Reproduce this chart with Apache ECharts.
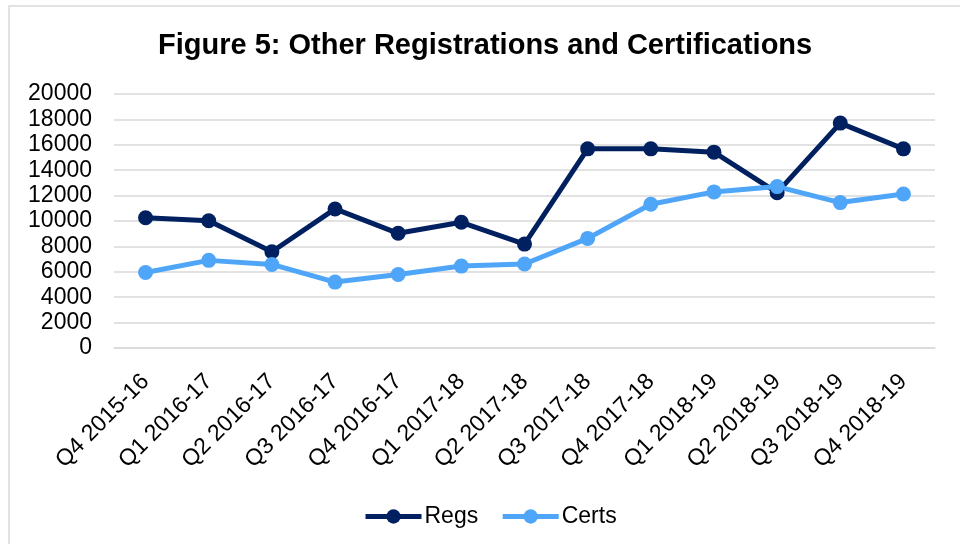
<!DOCTYPE html>
<html>
	<head>
		<meta charset="UTF-8">
		<title>Figure 5</title>
		<script src="https://cdn.jsdelivr.net/npm/echarts@6/dist/echarts.min.js"></script>
	</head>
	<style>
		html, body{
			margin: 0;
			padding: 0;
			background: #fff;
		}
		#main{
			width: 960px;
			height: 544px;
		}
	</style>
	<body>
		<div id="main"></div>
		<script>
	// data
	var quarters = ['Q4 2015-16', 'Q1 2016-17', 'Q2 2016-17', 'Q3 2016-17', 'Q4 2016-17',
		'Q1 2017-18', 'Q2 2017-18', 'Q3 2017-18', 'Q4 2017-18',
		'Q1 2018-19', 'Q2 2018-19', 'Q3 2018-19', 'Q4 2018-19'];
	var regs = [10260, 10020, 7580, 10950, 9030, 9900, 8180, 15680, 15680, 15420, 12230, 17710, 15680];
	var certs = [5950, 6900, 6580, 5190, 5790, 6450, 6610, 8630, 11320, 12290, 12710, 11450, 12130];

	var font = 'Arial, "Liberation Sans", sans-serif';
	var myChart = echarts.init(document.getElementById('main'));

	var option = {
		backgroundColor: '#fff',
		animation: false,
		title: {
			text: 'Figure 5: Other Registrations and Certifications',
			left: 153,
			top: 26,
			textStyle: {
				fontFamily: font,
				fontSize: 29,
				fontWeight: 'bold',
				color: '#000'
			}
		},
		graphic: [{
			type: 'rect',
			shape: {x: 9, y: 6, width: 960, height: 560},
			style: {fill: 'none', stroke: '#d9d9d9', lineWidth: 1.5},
			silent: true
		}],
		legend: {
			bottom: 11,
			left: 358,
			itemWidth: 56,
			itemHeight: 18,
			itemGap: 22,
			lineStyle: {width: 5},
			textStyle: {fontFamily: font, fontSize: 23, color: '#000', padding: [0, 0, 0, -2]},
			data: ['Regs', 'Certs']
		},
		grid: {
			left: 114,
			right: 25,
			top: 94,
			bottom: 196
		},
		xAxis: {
			type: 'category',
			data: quarters,
			boundaryGap: true,
			axisLine: {lineStyle: {color: '#d9d9d9', width: 1.5}},
			axisTick: {show: false},
			axisLabel: {
				rotate: 45,
				interval: 0,
				margin: 30,
				fontFamily: font,
				fontSize: 23,
				color: '#000'
			}
		},
		yAxis: {
			type: 'value',
			min: 0,
			max: 20000,
			interval: 2000,
			axisLine: {show: false},
			axisTick: {show: false},
			splitLine: {lineStyle: {color: '#d9d9d9', width: 1.5}},
			axisLabel: {
				margin: 22,
				fontFamily: font,
				fontSize: 23,
				color: '#000',
				formatter: function(value){
					return String(value);
				}
			}
		},
		series: [{
			name: 'Regs',
			type: 'line',
			data: regs,
			symbol: 'circle',
			symbolSize: 15,
			color: '#002060',
			lineStyle: {width: 5, color: '#002060'},
			itemStyle: {color: '#002060'}
		}, {
			name: 'Certs',
			type: 'line',
			data: certs,
			symbol: 'circle',
			symbolSize: 15,
			color: '#4fa6f8',
			lineStyle: {width: 5, color: '#4fa6f8'},
			itemStyle: {color: '#4fa6f8'}
		}]
	};
	myChart.setOption(option);
		</script>
	</body>
</html>
